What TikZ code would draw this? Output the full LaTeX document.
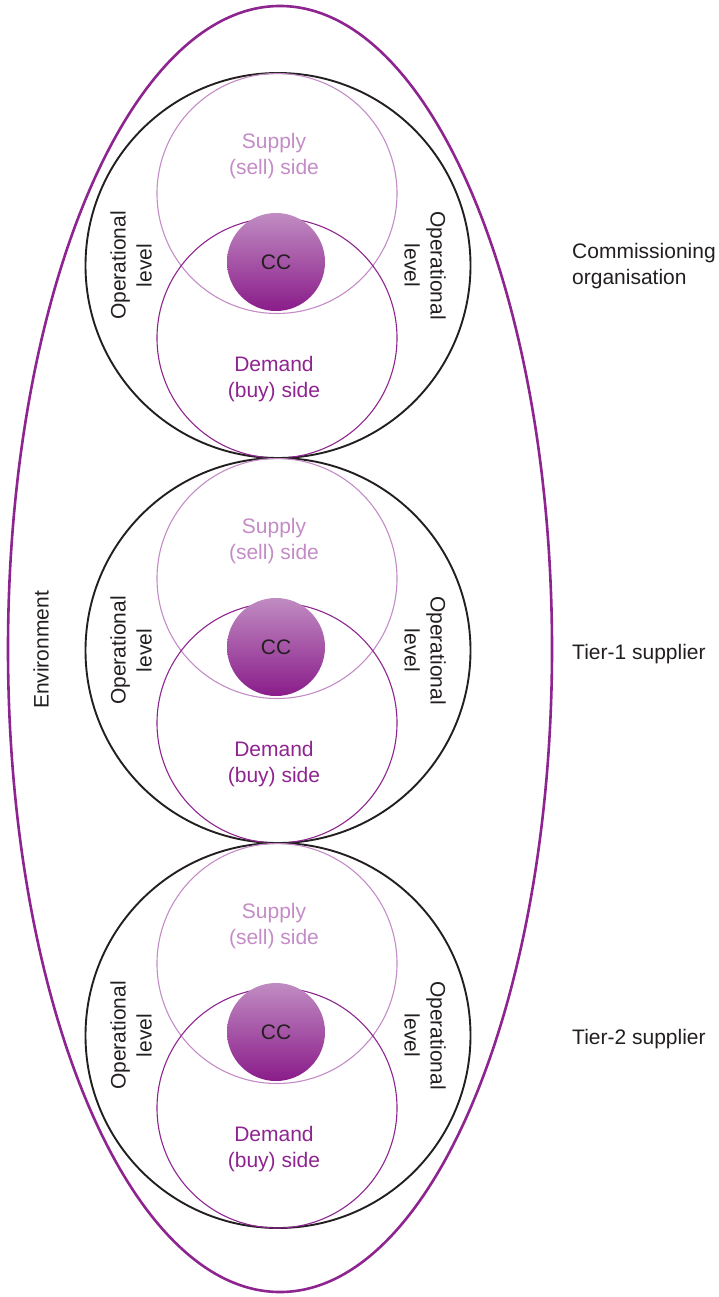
\documentclass[tikz,border=0pt]{standalone}
\usepackage{fontspec}
\setmainfont{Liberation Sans}
\usetikzlibrary{shapes.geometric}
\definecolor{envpurple}{RGB}{142,36,143}
\definecolor{demandpurple}{RGB}{142,36,143}
\definecolor{supplypurple}{RGB}{196,140,198}
\definecolor{cctop}{RGB}{192,140,194}
\definecolor{ccbot}{RGB}{138,28,138}
\definecolor{txtdark}{RGB}{35,31,32}
\tikzset{
  env/.style={draw=envpurple, line width=2.6pt},
  orgcircle/.style={circle, draw=txtdark, line width=1.9pt, minimum size=385pt, inner sep=0pt},
  supplycircle/.style={circle, draw=supplypurple, line width=1.1pt, minimum size=240pt, inner sep=0pt},
  demandcircle/.style={circle, draw=demandpurple, line width=1.1pt, minimum size=240pt, inner sep=0pt},
  ccball/.style={circle, top color=cctop, bottom color=ccbot, draw=none, minimum size=98pt, inner sep=0pt, text=txtdark, font=\fontsize{21}{26}\selectfont},
  lbl/.style={align=center, inner sep=0pt, font=\fontsize{21}{26}\selectfont},
  supplytext/.style={lbl, text=supplypurple},
  demandtext/.style={lbl, text=demandpurple},
  optext/.style={lbl, text=txtdark},
  sidetext/.style={align=left, anchor=west, inner sep=0pt, text=txtdark, font=\fontsize{21}{26}\selectfont}
}
\begin{document}
\begin{tikzpicture}[x=1pt,y=-1pt]
\useasboundingbox (0,0) rectangle (719,1297);
\node[env, ellipse, minimum width=544pt, minimum height=1286pt, inner sep=0pt] (envell) at (280,649) {};
\node[optext, rotate=90] (envlbl) at (41,650) {Environment};
\foreach \i/\cy/\ty/\name in {1/265.5/266.5/Commissioning\\organisation, 2/650.5/654.5/Tier-1 supplier, 3/1035.5/1039.5/Tier-2 supplier} {
  \node[orgcircle] (org\i) at (278,\cy) {};
  \node[supplycircle] (sup\i) at (277,\cy-72) {};
  \node[demandcircle] (dem\i) at (277,\cy+72.5) {};
  \node[ccball] (cc\i) at (276,\cy-3.5) {CC};
  \node[supplytext] (suplbl\i) at (274,\cy-109) {Supply\\(sell) side};
  \node[demandtext] (demlbl\i) at (274,\cy+113.5) {Demand\\(buy) side};
  \node[optext, rotate=90] (opl\i) at (131,\cy) {Operational\\level};
  \node[optext, rotate=-90] (opr\i) at (425,\cy) {Operational\\level};
  \node[sidetext] (side\i) at (572,\ty) {\name};
}
\end{tikzpicture}
\end{document}
